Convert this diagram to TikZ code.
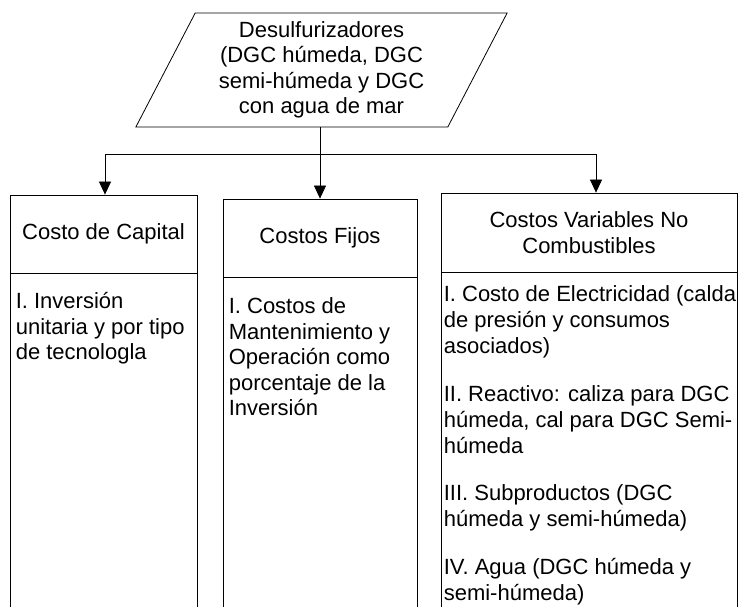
\documentclass[tikz,border=0pt]{standalone}
\usepackage{fontspec}
\setmainfont{Liberation Sans}
\usetikzlibrary{positioning,shapes.geometric,arrows.meta}

\begin{document}
\begin{tikzpicture}[x=1pt,y=1pt,
  every node/.style={font=\fontsize{22}{25.5}\selectfont},
  frame/.style={draw,line width=.8pt},
  srcbox/.style={frame,shape=trapezium,trapezium left angle=63.8,trapezium right angle=116.2,
    trapezium stretches=true,minimum width=373pt,minimum height=114pt,inner sep=1pt,align=center},
  head/.style={frame,minimum height=78pt,align=center},
  body/.style={frame,minimum height=380pt},
  item/.style={inner sep=0pt,align=left},
  link/.style={line width=.8pt,-{Triangle[length=13pt,width=12pt]}}
]
\useasboundingbox (0,0) rectangle (738,606);
\clip (0,0) rectangle (738,606);

\node[srcbox] (desulf) at (321.5,536) {Desulfurizadores\\(DGC húmeda, DGC\\semi-húmeda y DGC\\con agua de mar};

\node[head,minimum width=187pt] (capital) at (103.5,372) {Costo de Capital};
\node[head,minimum width=194pt] (fijos) at (320,368) {Costos Fijos};
\node[head,minimum width=296pt,minimum height=79pt] (variables) at (589,373.5) {Costos Variables No\\Combustibles};

\node[body,minimum width=187pt,below=0pt of capital] (capitalb) {};
\node[body,minimum width=194pt,below=0pt of fijos] (fijosb) {};
\node[body,minimum width=296pt,below=0pt of variables] (variablesb) {};

\node[item,below right=19pt and 6pt of capitalb.north west] (inversion) {I. Inversión\\unitaria y por tipo\\de tecnologla};
\node[item,below right=20pt and 6pt of fijosb.north west] (mantenim) {I. Costos de\\Mantenimiento y\\Operación como\\porcentaje de la\\Inversión};
\node[item,font=\fontsize{22}{26}\selectfont,below right=13pt and 3pt of variablesb.north west] (electric)
  {I. Costo de Electricidad (calda\\de presión y consumos\\asociados)\\[21.5pt]
   II. Reactivo: caliza para DGC\\húmeda, cal para DGC Semi-\\húmeda\\[21.5pt]
   III. Subproductos (DGC\\húmeda y semi-húmeda)\\[21.5pt]
   IV. Agua (DGC húmeda y\\semi-húmeda)};

\coordinate (split) at (320,452);
\draw[link] (desulf.bottom side -| fijos.north) -- (fijos.north);
\draw[link] (split) -| ([xshift=1.5pt]capital.north);
\draw[link] (split) -| ([xshift=7pt]variables.north);
\end{tikzpicture}
\end{document}
